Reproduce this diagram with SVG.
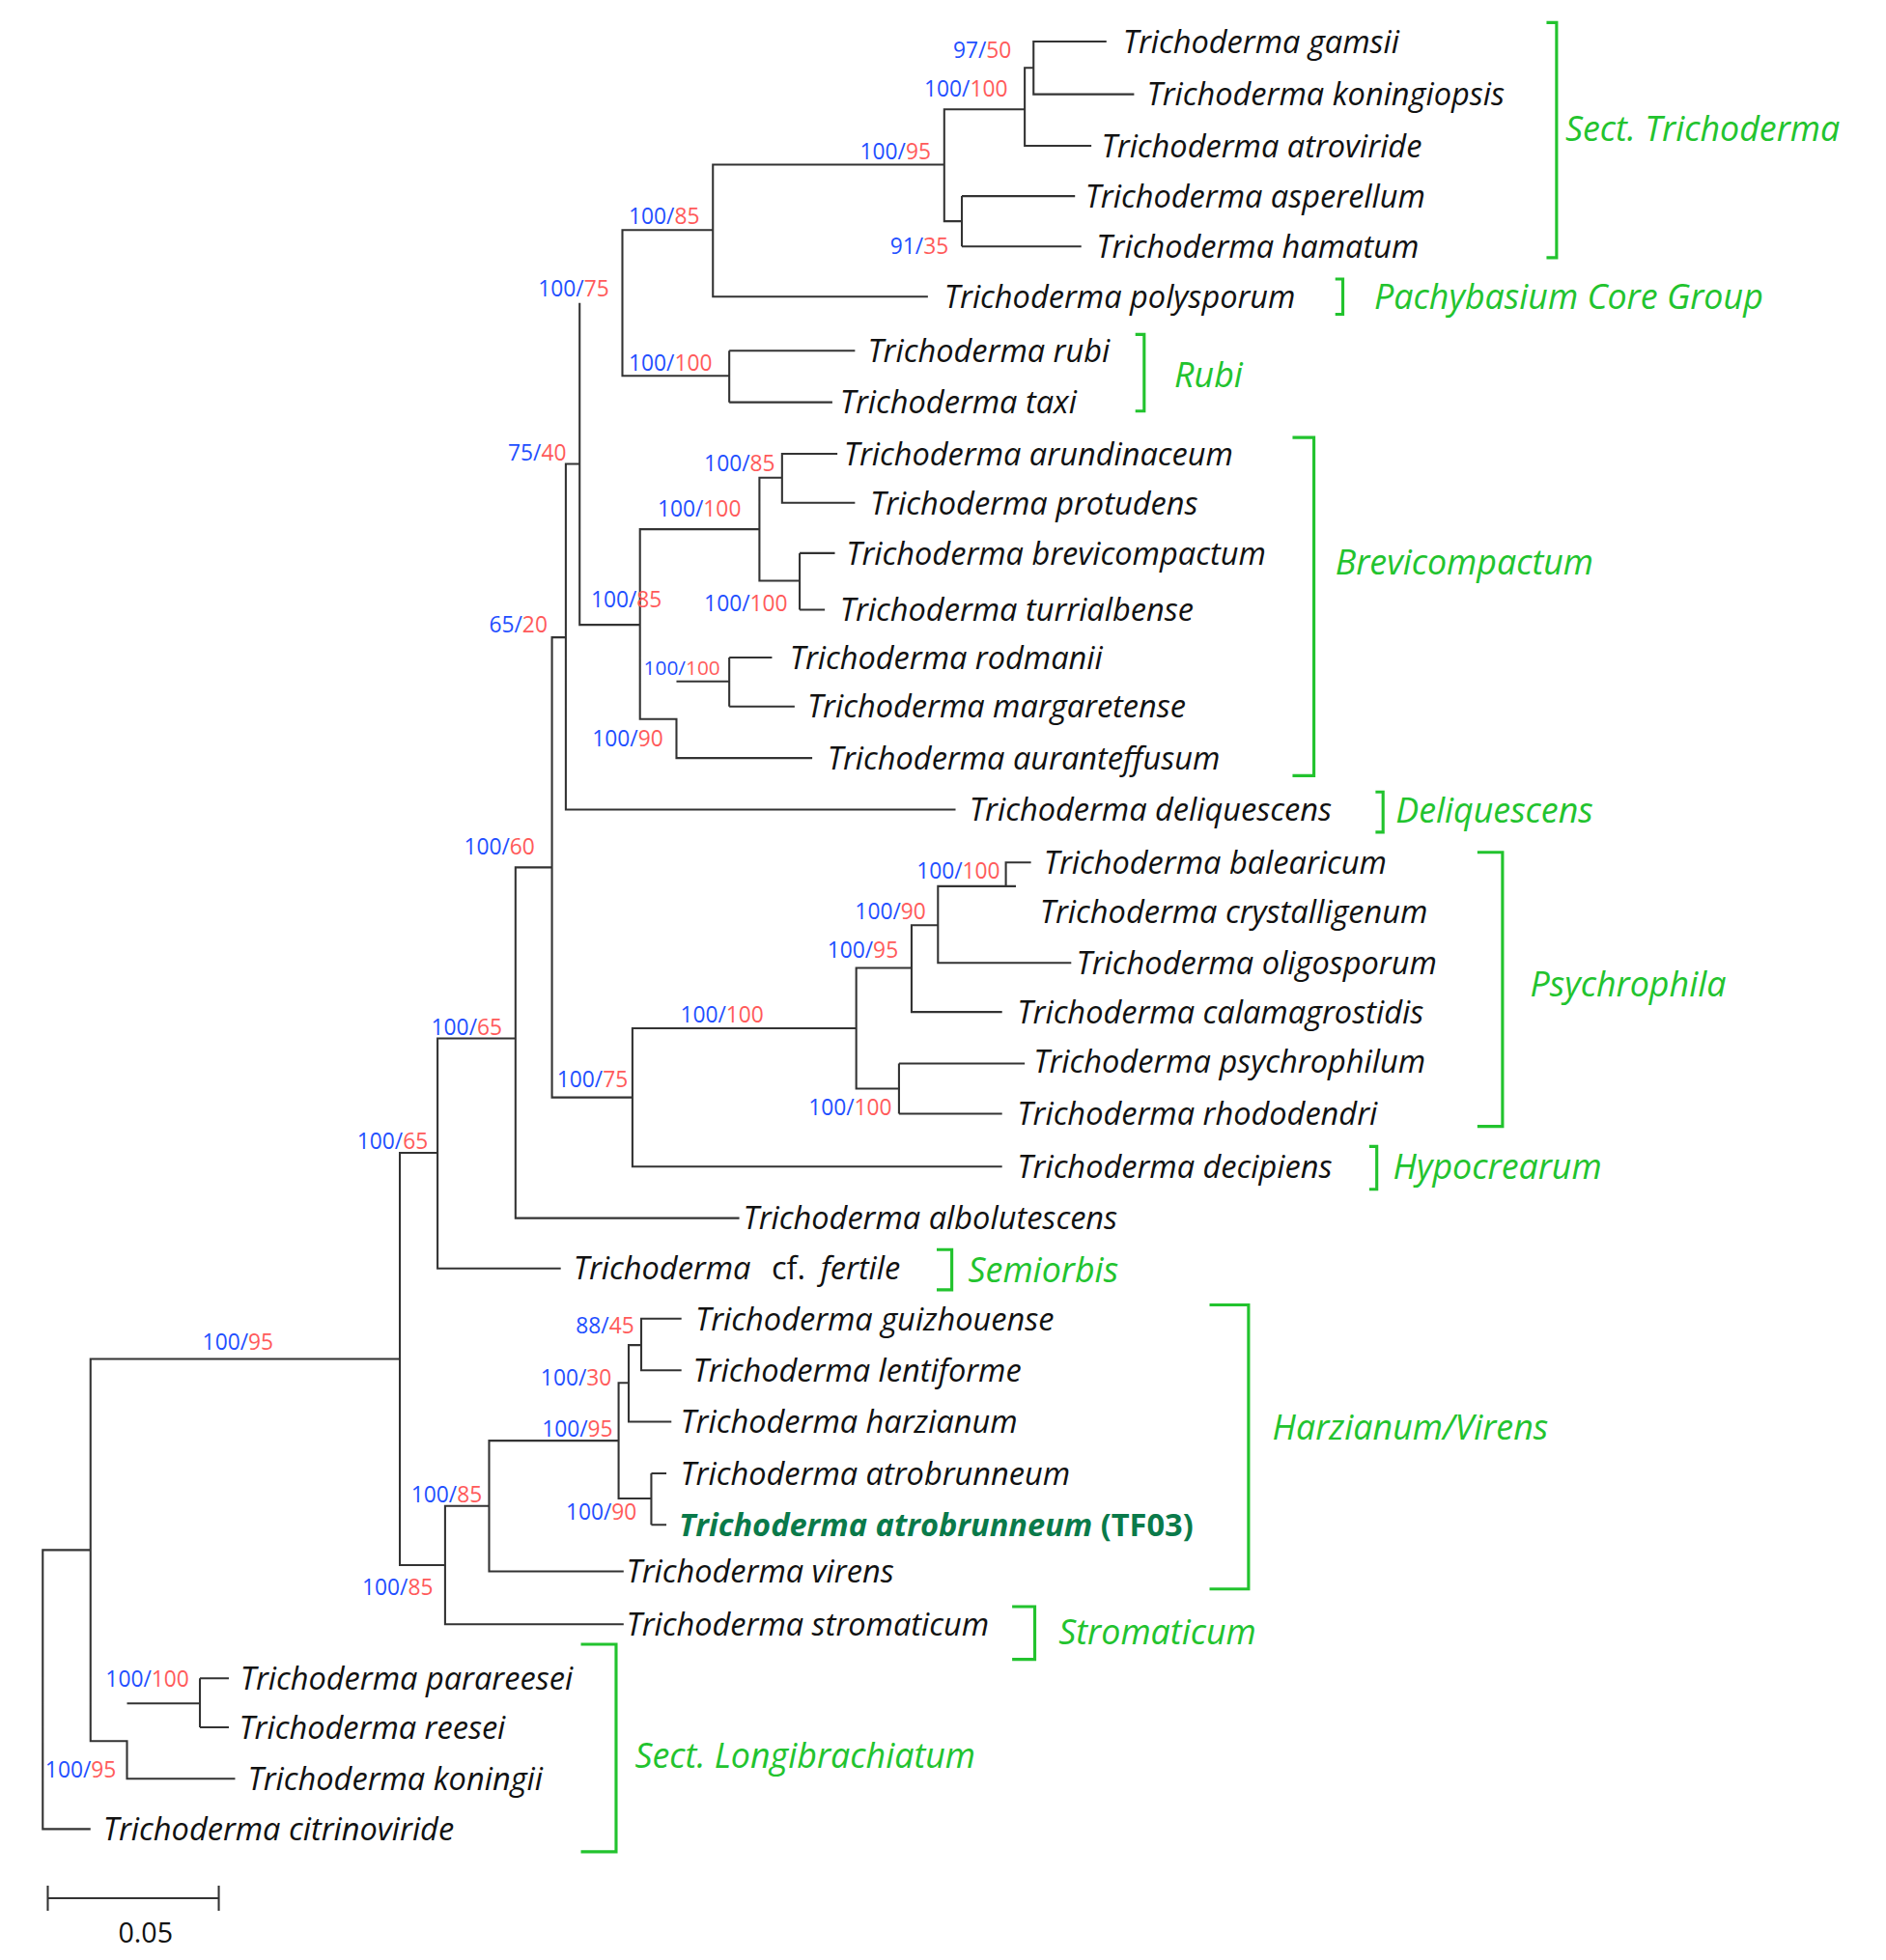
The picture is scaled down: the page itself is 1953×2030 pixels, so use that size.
<svg xmlns="http://www.w3.org/2000/svg" width="1953" height="2030" viewBox="0 0 1953 2030">
<style>
.t{font-family:"Open Sans","Noto Sans",sans-serif;font-size:25px;font-style:italic;fill:#111}
.s{font-family:"Open Sans","Noto Sans",sans-serif;font-size:17.5px}
.b{fill:#1f4fff}.r{fill:#ff5a5a}
.g{font-family:"Open Sans","Noto Sans",sans-serif;font-size:27.5px;font-style:italic;fill:#22c32e}
.br{fill:none;stroke:#22c32e;stroke-width:2.4}
.e{fill:none;stroke:#333;stroke-width:1.6}
</style>
<rect width="1953" height="2030" fill="#fff"/>
<g transform="scale(1.302)">
<g id="connectors" class="e">
<path d="M880 33H822V75H902M822 54H815V116H868M815 87H751V176H765M765 156V196M765 156H855M765 196H860M751 131H567V236H738M567 183H495V299H580M580 279V320M580 279H680M580 320H662"/>
<path d="M666 361H622V400H680M622 380H604V462H636M636 440V485M636 440H664M636 485H656M604 421H509V572H538V603H646M538 542H580M580 523V562M580 523H614M580 562H632M509 497H461V241M461 369H450V644H760"/>
<path d="M820 686H800V705H808M800 705H746V766H852M746 736H725V805H797M725 770H681V866H715M715 846V886M715 846H815M715 886H797M681 818H503V928H797M503 873H439V507H450M439 690H410V969H588M410 826H348V1009H446"/>
<path d="M542 1049H510V1090H542M510 1070H500V1131H534M500 1100H492V1192H518M518 1172V1213M518 1172H530M518 1213H530M492 1146H389V1250H496M389 1198H354V1292H496M354 1245H318V917H348M318 1081H72V1385H101V1415H187M101 1355H159M159 1335V1374M159 1335H182M159 1374H182M72 1233H34V1455H72"/>
<path d="M38 1510H174M38 1500V1520M174 1500V1520"/>
</g>
<g id="leaves">
<text class="t" x="893" y="42">Trichoderma gamsii</text>
<text class="t" x="912" y="84">Trichoderma koningiopsis</text>
<text class="t" x="876" y="125">Trichoderma atroviride</text>
<text class="t" x="863" y="165">Trichoderma asperellum</text>
<text class="t" x="872" y="205">Trichoderma hamatum</text>
<text class="t" x="751" y="245">Trichoderma polysporum</text>
<text class="t" x="690" y="288">Trichoderma rubi</text>
<text class="t" x="668" y="329">Trichoderma taxi</text>
<text class="t" x="671" y="370">Trichoderma arundinaceum</text>
<text class="t" x="692" y="409">Trichoderma protudens</text>
<text class="t" x="673" y="449">Trichoderma brevicompactum</text>
<text class="t" x="668" y="494">Trichoderma turrialbense</text>
<text class="t" x="628" y="532">Trichoderma rodmanii</text>
<text class="t" x="642" y="571">Trichoderma margaretense</text>
<text class="t" x="658" y="612">Trichoderma auranteffusum</text>
<text class="t" x="771" y="653">Trichoderma deliquescens</text>
<text class="t" x="830" y="695">Trichoderma balearicum</text>
<text class="t" x="827" y="734">Trichoderma crystalligenum</text>
<text class="t" x="856" y="775">Trichoderma oligosporum</text>
<text class="t" x="809" y="814">Trichoderma calamagrostidis</text>
<text class="t" x="822" y="853">Trichoderma psychrophilum</text>
<text class="t" x="809" y="895">Trichoderma rhododendri</text>
<text class="t" x="809" y="937">Trichoderma decipiens</text>
<text class="t" x="591" y="978">Trichoderma albolutescens</text>
<text class="t" x="456" y="1018">Trichoderma <tspan font-style="normal" dx="10">cf.</tspan><tspan dx="12">fertile</tspan></text>
<text class="t" x="553" y="1058">Trichoderma guizhouense</text>
<text class="t" x="551" y="1099">Trichoderma lentiforme</text>
<text class="t" x="541" y="1140">Trichoderma harzianum</text>
<text class="t" x="541" y="1181">Trichoderma atrobrunneum</text>
<text class="t" x="540" y="1222" style="fill:#0a7a4a;font-weight:bold">Trichoderma atrobrunneum<tspan font-style="normal"> (TF03)</tspan></text>
<text class="t" x="498" y="1259">Trichoderma virens</text>
<text class="t" x="498" y="1301">Trichoderma stromaticum</text>
<text class="t" x="191" y="1344">Trichoderma parareesei</text>
<text class="t" x="190" y="1383">Trichoderma reesei</text>
<text class="t" x="197" y="1424">Trichoderma koningii</text>
<text class="t" x="82" y="1464">Trichoderma citrinoviride</text>
<text x="94" y="1545" style="font-family:'Open Sans',sans-serif;font-size:22px;fill:#111">0.05</text>
</g>
<g id="support" class="s">
<text x="758" y="46"><tspan class="b">97/</tspan><tspan class="r">50</tspan></text>
<text x="735" y="77"><tspan class="b">100/</tspan><tspan class="r">100</tspan></text>
<text x="684" y="127"><tspan class="b">100/</tspan><tspan class="r">95</tspan></text>
<text x="708" y="202"><tspan class="b">91/</tspan><tspan class="r">35</tspan></text>
<text x="500" y="178"><tspan class="b">100/</tspan><tspan class="r">85</tspan></text>
<text x="500" y="295"><tspan class="b">100/</tspan><tspan class="r">100</tspan></text>
<text x="428" y="236"><tspan class="b">100/</tspan><tspan class="r">75</tspan></text>
<text x="560" y="375"><tspan class="b">100/</tspan><tspan class="r">85</tspan></text>
<text x="523" y="411"><tspan class="b">100/</tspan><tspan class="r">100</tspan></text>
<text x="560" y="486"><tspan class="b">100/</tspan><tspan class="r">100</tspan></text>
<text x="470" y="483"><tspan class="b">100/</tspan><tspan class="r">85</tspan></text>
<text x="512" y="537" font-size="16"><tspan class="b">100/</tspan><tspan class="r">100</tspan></text>
<text x="471" y="594"><tspan class="b">100/</tspan><tspan class="r">90</tspan></text>
<text x="404" y="366"><tspan class="b">75/</tspan><tspan class="r">40</tspan></text>
<text x="389" y="503"><tspan class="b">65/</tspan><tspan class="r">20</tspan></text>
<text x="729" y="699"><tspan class="b">100/</tspan><tspan class="r">100</tspan></text>
<text x="680" y="731"><tspan class="b">100/</tspan><tspan class="r">90</tspan></text>
<text x="658" y="762"><tspan class="b">100/</tspan><tspan class="r">95</tspan></text>
<text x="541" y="813"><tspan class="b">100/</tspan><tspan class="r">100</tspan></text>
<text x="643" y="887"><tspan class="b">100/</tspan><tspan class="r">100</tspan></text>
<text x="443" y="865"><tspan class="b">100/</tspan><tspan class="r">75</tspan></text>
<text x="369" y="680"><tspan class="b">100/</tspan><tspan class="r">60</tspan></text>
<text x="343" y="823"><tspan class="b">100/</tspan><tspan class="r">65</tspan></text>
<text x="284" y="914"><tspan class="b">100/</tspan><tspan class="r">65</tspan></text>
<text x="161" y="1074"><tspan class="b">100/</tspan><tspan class="r">95</tspan></text>
<text x="458" y="1061"><tspan class="b">88/</tspan><tspan class="r">45</tspan></text>
<text x="430" y="1102"><tspan class="b">100/</tspan><tspan class="r">30</tspan></text>
<text x="431" y="1143"><tspan class="b">100/</tspan><tspan class="r">95</tspan></text>
<text x="450" y="1209"><tspan class="b">100/</tspan><tspan class="r">90</tspan></text>
<text x="327" y="1195"><tspan class="b">100/</tspan><tspan class="r">85</tspan></text>
<text x="288" y="1269"><tspan class="b">100/</tspan><tspan class="r">85</tspan></text>
<text x="84" y="1342"><tspan class="b">100/</tspan><tspan class="r">100</tspan></text>
<text x="36" y="1414"><tspan class="b">100/</tspan><tspan class="r">95</tspan></text>
</g>
<g id="clades">
<path class="br" d="M1230 18H1238V205H1230"/><text class="g" x="1245" y="112">Sect. Trichoderma</text>
<path class="br" d="M1062 222H1068V250H1062"/><text class="g" x="1093" y="246">Pachybasium Core Group</text>
<path class="br" d="M903 266H910V327H903"/><text class="g" x="934" y="308">Rubi</text>
<path class="br" d="M1028 348H1045V617H1028"/><text class="g" x="1062" y="457">Brevicompactum</text>
<path class="br" d="M1094 630H1100V662H1094"/><text class="g" x="1110" y="654">Deliquescens</text>
<path class="br" d="M1175 678H1195V896H1175"/><text class="g" x="1217" y="793">Psychrophila</text>
<path class="br" d="M1089 912H1095V946H1089"/><text class="g" x="1108" y="938">Hypocrearum</text>
<path class="br" d="M745 994H757V1026H745"/><text class="g" x="770" y="1020">Semiorbis</text>
<path class="br" d="M962 1038H993V1264H962"/><text class="g" x="1012" y="1145">Harzianum/Virens</text>
<path class="br" d="M805 1278H823V1320H805"/><text class="g" x="842" y="1308">Stromaticum</text>
<path class="br" d="M462 1308H490V1473H462"/><text class="g" x="505" y="1406">Sect. Longibrachiatum</text>
</g>
</g>
</svg>
